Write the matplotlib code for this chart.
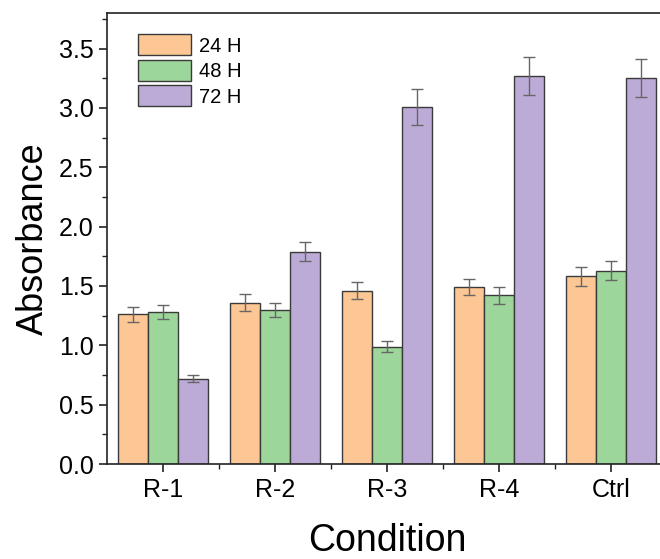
import numpy as np
import matplotlib
matplotlib.use('Agg')
import matplotlib.pyplot as plt
from matplotlib.ticker import MultipleLocator, FixedLocator

plt.rcParams['font.family'] = ['Liberation Sans', 'DejaVu Sans']

# data
conditions = ['R-1', 'R-2', 'R-3', 'R-4', 'Ctrl']
series = ['24 H', '48 H', '72 H']
h24 = [1.26, 1.36, 1.46, 1.49, 1.58]
h48 = [1.28, 1.30, 0.99, 1.42, 1.63]
h72 = [0.72, 1.79, 3.01, 3.27, 3.25]
err24 = [0.06, 0.07, 0.07, 0.07, 0.08]
err48 = [0.06, 0.06, 0.05, 0.07, 0.08]
err72 = [0.03, 0.08, 0.15, 0.16, 0.16]
colors = ['#FCC794', '#9DD69B', '#BDABD7']

fig = plt.figure(figsize=(6.6, 5.59), dpi=100)
ax = fig.add_axes([107/660, 95/559, 560/660, 451/559])

x = np.arange(len(conditions))
w = 0.267
vals = [h24, h48, h72]
errs = [err24, err48, err72]
for i in range(3):
    ax.bar(x + (i - 1) * w, vals[i], width=w, color=colors[i],
           edgecolor='#3a3a3a', linewidth=1.0, label=series[i],
           yerr=errs[i], capsize=4,
           error_kw=dict(ecolor='#666666', elinewidth=1.0, capthick=1.0))

ax.set_xlim(-0.5, 4.5)
ax.set_ylim(0, 3.8)
ax.set_xticks(x)
ax.set_xticklabels(conditions)
ax.xaxis.set_minor_locator(FixedLocator(x[:-1] + 0.5))
ax.yaxis.set_major_locator(MultipleLocator(0.5))
ax.yaxis.set_minor_locator(MultipleLocator(0.25))
ax.yaxis.set_major_formatter(matplotlib.ticker.FormatStrFormatter('%.1f'))

ax.tick_params(which='major', direction='out', length=6, width=1.2, labelsize=18, color='#222222')
ax.tick_params(which='minor', direction='out', length=3.5, width=1.0, color='#222222')
ax.tick_params(axis='x', which='major', pad=4)
for s in ax.spines.values():
    s.set_linewidth(1.2)
    s.set_color('#222222')

ax.set_xlabel('Condition', fontsize=27, labelpad=15)
ax.set_ylabel('Absorbance', fontsize=26, labelpad=6)

leg = ax.legend(loc='upper left', bbox_to_anchor=(0.055, 0.953), frameon=False,
                fontsize=14.5, handlelength=2.65, handleheight=1.25,
                labelspacing=0.2, handletextpad=0.4, borderaxespad=0, borderpad=0)

fig.savefig('out.png', dpi=100)
